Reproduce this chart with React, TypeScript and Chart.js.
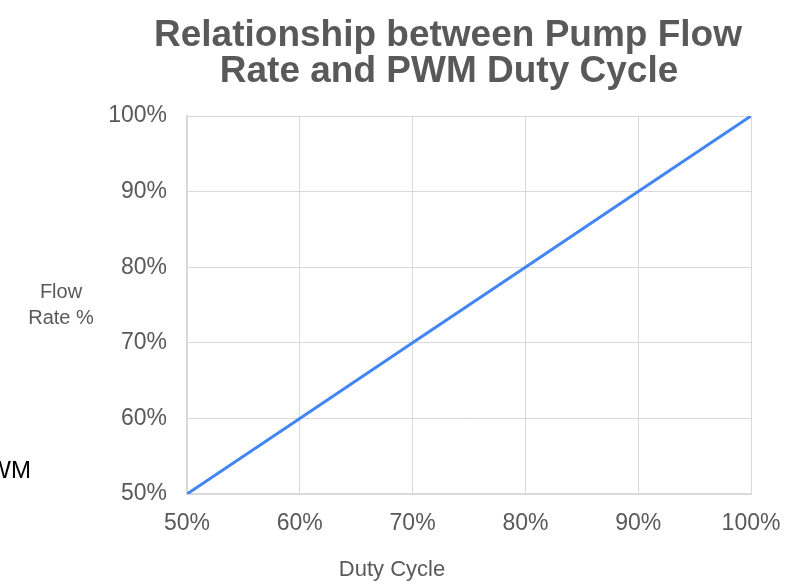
import React, { useEffect, useRef } from "react";
import { Chart, registerables } from "chart.js";

Chart.register(...registerables);

const dutyCycle = [50, 60, 70, 80, 90, 100];
const flowRate = [50, 60, 70, 80, 90, 100];
const titleLines = ["Relationship between Pump Flow", "Rate and PWM Duty Cycle"];
const yLabelLines = ["Flow", "Rate %"];
const xLabel = "Duty Cycle";
const strayText = "PWM";

const FONT = "'Liberation Sans', Arial, sans-serif";
const GREY = "#595959";

const textPlugin = {
  id: "texts",
  afterDraw(chart: any) {
    const ctx = chart.ctx;
    ctx.save();
    ctx.fillStyle = GREY;
    ctx.textAlign = "center";
    ctx.textBaseline = "middle";
    ctx.font = `bold 37px ${FONT}`;
    ctx.fillText(titleLines[0], 448, 36);
    ctx.fillText(titleLines[1], 449, 72);
    ctx.font = `20px ${FONT}`;
    ctx.fillText(yLabelLines[0], 61, 292);
    ctx.fillText(yLabelLines[1], 61, 318);
    ctx.font = `22px ${FONT}`;
    ctx.fillText(xLabel, 392, 570);
    ctx.fillStyle = "#000000";
    ctx.textAlign = "right";
    ctx.font = `24px ${FONT}`;
    ctx.fillText(strayText, 31, 471);
    ctx.restore();
  },
};

export default function App() {
  const ref = useRef<HTMLCanvasElement>(null);
  useEffect(() => {
    document.body.style.margin = "0";
    const chart = new Chart(ref.current!, {
      type: "line",
      data: {
        datasets: [
          {
            data: dutyCycle.map((d, i) => ({ x: d, y: flowRate[i] })),
            borderColor: "#4285F4",
            borderWidth: 3,
            pointRadius: 0,
            fill: false,
          },
        ],
      },
      options: {
        animation: false,
        responsive: false,
        layout: { padding: { top: 116, right: 42, left: 0, bottom: 0 } },
        plugins: { legend: { display: false }, title: { display: false }, tooltip: { enabled: false } },
        scales: {
          x: {
            type: "linear",
            min: 50,
            max: 100,
            afterFit: (s: any) => {
              s.height = 91;
              s.paddingLeft = 0;
              s.paddingRight = 0;
            },
            grid: { color: "#d9d9d9", lineWidth: 1, drawTicks: false },
            border: { color: "#d9d9d9", width: 2 },
            ticks: {
              stepSize: 10,
              padding: 16,
              maxRotation: 0,
              color: GREY,
              font: { family: FONT, size: 23 },
              callback: (v: any) => v + "%",
            },
          },
          y: {
            type: "linear",
            min: 50,
            max: 100,
            afterFit: (s: any) => {
              s.width = 187;
              s.paddingTop = 0;
              s.paddingBottom = 0;
            },
            grid: { color: "#d9d9d9", lineWidth: 1, drawTicks: false },
            border: { color: "#d9d9d9", width: 2 },
            ticks: {
              stepSize: 10,
              padding: 20,
              color: GREY,
              font: { family: FONT, size: 23 },
              callback: (v: any) => v + "%",
            },
          },
        },
      },
      plugins: [textPlugin],
    });
    return () => chart.destroy();
  }, []);
  return (
    <div style={{ position: "absolute", left: 0, top: 0, width: 793, height: 585, background: "#fff" }}>
      <canvas ref={ref} width={793} height={585} />
    </div>
  );
}
